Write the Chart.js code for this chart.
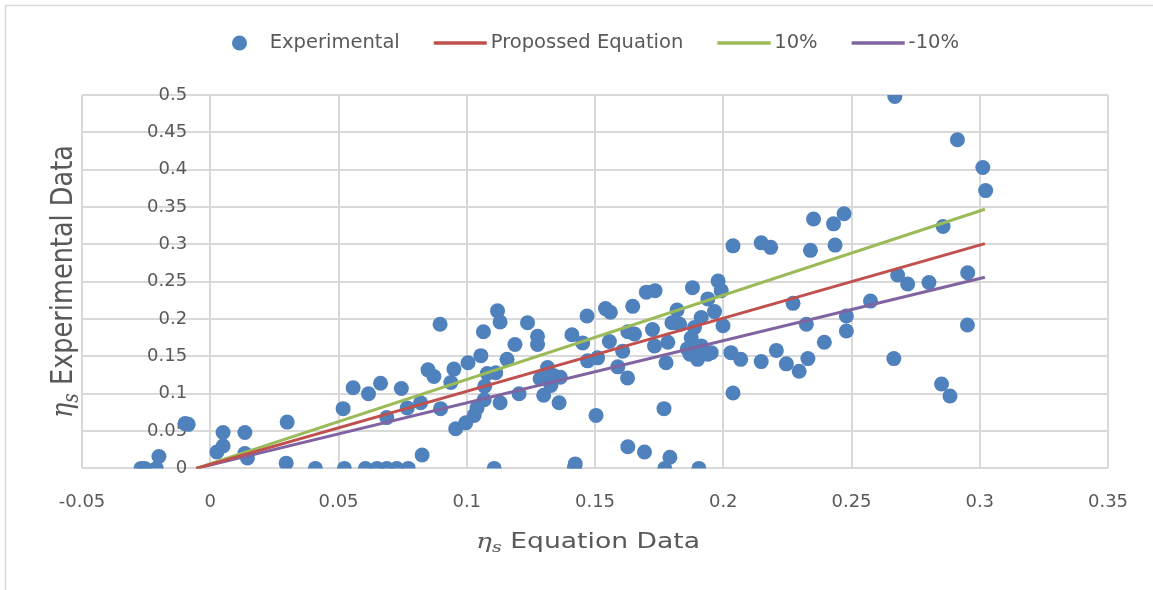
<!DOCTYPE html>
<html>
<head>
<meta charset="utf-8">
<title>Experimental vs Equation</title>
<script src="https://cdn.jsdelivr.net/npm/chart.js@4/dist/chart.umd.min.js"></script>
<style>
  html, body { margin: 0; padding: 0; background: #ffffff; }
  #wrap { width: 1153px; height: 590px; }
</style>
</head>
<body>
<div id="wrap"><canvas id="chart" width="1153" height="590"></canvas></div>
<script>
// Measured points: eta_s from the equation (x) against experimental eta_s (y)
const expX = [
  -0.0270, -0.0255, -0.0210, -0.0200, -0.0098, -0.0086, 0.0026, 0.0050, 0.0050, 0.0135,
  0.0135, 0.0145, 0.0296, 0.0300, 0.0410, 0.0518, 0.0523, 0.0557, 0.0605, 0.0617,
  0.0650, 0.0664, 0.0688, 0.0688, 0.0727, 0.0745, 0.0768, 0.0772, 0.0820, 0.0826,
  0.0849, 0.0872, 0.0896, 0.0898, 0.0938, 0.0950, 0.0957, 0.0996, 0.1005, 0.1029,
  0.1040, 0.1055, 0.1065, 0.1068, 0.1070, 0.1080, 0.1107, 0.1113, 0.1120, 0.1130,
  0.1130, 0.1157, 0.1188, 0.1204, 0.1237, 0.1276, 0.1276, 0.1286, 0.1300, 0.1315,
  0.1328, 0.1340, 0.1365, 0.1360, 0.1410, 0.1420, 0.1423, 0.1452, 0.1469, 0.1471,
  0.1504, 0.1510, 0.1541, 0.1560, 0.1556, 0.1589, 0.1608, 0.1628, 0.1627, 0.1628,
  0.1647, 0.1654, 0.1693, 0.1700, 0.1734, 0.1724, 0.1732, 0.1769, 0.1777, 0.1784,
  0.1772, 0.1792, 0.1800, 0.1820, 0.1830, 0.1880, 0.1875, 0.1888, 0.1870, 0.1860,
  0.1900, 0.1905, 0.1914, 0.1914, 0.1920, 0.1940, 0.1940, 0.1953, 0.1966, 0.1980,
  0.1992, 0.1999, 0.2030, 0.2038, 0.2038, 0.2068, 0.2148, 0.2148, 0.2185, 0.2207,
  0.2246, 0.2272, 0.2296, 0.2324, 0.2330, 0.2340, 0.2352, 0.2394, 0.2430, 0.2436,
  0.2471, 0.2480, 0.2480, 0.2574, 0.2665, 0.2669, 0.2680, 0.2719, 0.2802, 0.2851,
  0.2857, 0.2884, 0.2913, 0.2953, 0.2952, 0.3012, 0.3023
];
const expY = [
  0.000, 0.000, 0.000, 0.016, 0.060, 0.059, 0.022, 0.030, 0.048, 0.048,
  0.020, 0.014, 0.007, 0.062, 0.000, 0.080, 0.000, 0.108, 0.000, 0.100,
  0.000, 0.114, 0.000, 0.068, 0.000, 0.107, 0.081, 0.000, 0.088, 0.018,
  0.132, 0.123, 0.193, 0.080, 0.115, 0.133, 0.053, 0.061, 0.1415, 0.071,
  0.081, 0.151, 0.183, 0.092, 0.110, 0.127, 0.000, 0.128, 0.211, 0.196,
  0.088, 0.146, 0.166, 0.100, 0.195, 0.177, 0.166, 0.120, 0.098, 0.135,
  0.111, 0.124, 0.122, 0.088, 0.179, 0.001, 0.006, 0.168, 0.204, 0.144,
  0.071, 0.148, 0.214, 0.209, 0.170, 0.136, 0.157, 0.183, 0.121, 0.029,
  0.217, 0.180, 0.022, 0.236, 0.238, 0.186, 0.164, 0.080, 0.1415, 0.169,
  0.000, 0.015, 0.195, 0.212, 0.193, 0.242, 0.175, 0.1886, 0.153, 0.160,
  0.146, 0.000, 0.202, 0.164, 0.158, 0.153, 0.227, 0.155, 0.210, 0.251,
  0.238, 0.191, 0.155, 0.298, 0.101, 0.146, 0.302, 0.143, 0.296, 0.158,
  0.140, 0.221, 0.130, 0.193, 0.147, 0.292, 0.334, 0.169, 0.3275, 0.299,
  0.341, 0.204, 0.184, 0.224, 0.147, 0.498, 0.259, 0.247, 0.249, 0.113,
  0.324, 0.097, 0.440, 0.262, 0.192, 0.403, 0.372
];

// Reference lines: the proposed equation and the +/- band around it
const lineX = [-0.0055, 0.302];
const proposedY = [0, 0.301];
const plus10Y = [0, 0.347];
const minus10Y = [0, 0.256];

// Axis tick labels
const xTickLabels = ['-0.05', '0', '0.05', '0.1', '0.15', '0.2', '0.25', '0.3', '0.35'];
const yTickLabels = ['0', '0.05', '0.1', '0.15', '0.2', '0.25', '0.3', '0.35', '0.4', '0.45', '0.5'];

const seriesNames = ['Experimental', 'Propossed Equation', '10%', '-10%'];
const X_MIN = -0.05, X_MAX = 0.35, Y_MIN = 0, Y_MAX = 0.5, STEP = 0.05;

const BLUE = '#4F81BD', RED = '#C0504D', GREEN = '#9BBB59', PURPLE = '#8064A2';
const TEXT = '#595959', GRID = '#d9d9d9';

const toPoints = (xs, ys) => xs.map((x, i) => ({ x: x, y: ys[i] }));

// Legend glyphs: a round marker or a short line segment
function legendGlyph(kind, color) {
  const c = document.createElement('canvas');
  c.width = 70; c.height = 20;
  const g = c.getContext('2d');
  if (kind === 'dot') {
    g.fillStyle = color;
    g.beginPath(); g.arc(43.5, 10, 7.5, 0, Math.PI * 2); g.fill();
  } else {
    g.strokeStyle = color; g.lineWidth = 3.5; g.lineCap = 'butt';
    g.beginPath(); g.moveTo(16.75, 10); g.lineTo(69.75, 10); g.stroke();
  }
  return c;
}
const glyphs = [legendGlyph('dot', BLUE), legendGlyph('line', RED), legendGlyph('line', GREEN), legendGlyph('line', PURPLE)];

// Extra room between the legend row and the plot
const legendSpacing = {
  id: 'legendSpacing',
  beforeInit(chart) {
    const legend = chart.legend;
    const fit = legend.fit;
    legend.fit = function () { fit.call(this); this.height += 32.25; };
  }
};

// White page with the thin frame along the top and left edges
const frame = {
  id: 'frame',
  beforeDraw(chart) {
    const ctx = chart.ctx;
    ctx.save();
    ctx.fillStyle = '#ffffff';
    ctx.fillRect(0, 0, chart.width, chart.height);
    ctx.strokeStyle = GRID; ctx.lineWidth = 1.5;
    ctx.beginPath();
    ctx.moveTo(5.5, chart.height); ctx.lineTo(5.5, 5.5); ctx.lineTo(chart.width, 5.5);
    ctx.stroke();
    ctx.restore();
  }
};

// Axis titles with an italic eta and subscript s
function drawEtaTitle(ctx, bx, by, rotated, fontPx, length, thickness, rest) {
  ctx.save();
  const etaFont = 'italic ' + fontPx + 'px "DejaVu Serif"';
  const subFont = 'italic ' + (fontPx * 0.72) + 'px "DejaVu Serif"';
  const textFont = fontPx + 'px "DejaVu Sans"';
  ctx.font = etaFont; const wEta = ctx.measureText('\u03B7').width;
  ctx.font = subFont; const wSub = ctx.measureText('s').width;
  ctx.font = textFont; const wText = ctx.measureText(' ' + rest).width;
  const total = wEta + wSub + wText;
  ctx.translate(bx, by);
  if (rotated) ctx.rotate(-Math.PI / 2);
  ctx.scale(length / total, thickness);
  ctx.fillStyle = TEXT;
  ctx.textBaseline = 'alphabetic';
  ctx.textAlign = 'left';
  let x = -total / 2;
  ctx.font = etaFont; ctx.fillText('\u03B7', x, 0); x += wEta;
  ctx.font = subFont; ctx.fillText('s', x, fontPx * 0.2); x += wSub;
  ctx.font = textFont; ctx.fillText(' ' + rest, x, 0);
  ctx.restore();
}
const axisTitles = {
  id: 'axisTitles',
  afterDraw(chart) {
    const ctx = chart.ctx;
    drawEtaTitle(ctx, 588, 548, false, 20.5, 224, 1, 'Equation Data');
    drawEtaTitle(ctx, 72, 281.5, true, 25, 273, 1.2, 'Experimental Data');
  }
};

const tickFont = { family: 'DejaVu Sans', size: 18 };

new Chart(document.getElementById('chart'), {
  type: 'scatter',
  data: {
    datasets: [
      {
        label: seriesNames[0], data: toPoints(expX, expY), order: 1,
        backgroundColor: BLUE, borderColor: BLUE, borderWidth: 0,
        pointRadius: 7.5, pointHoverRadius: 7.5, pointStyle: 'circle'
      },
      {
        label: seriesNames[1], data: toPoints(lineX, proposedY), order: 0,
        showLine: true, borderColor: RED, backgroundColor: RED, borderWidth: 3, pointRadius: 0
      },
      {
        label: seriesNames[2], data: toPoints(lineX, plus10Y), order: 0,
        showLine: true, borderColor: GREEN, backgroundColor: GREEN, borderWidth: 3, pointRadius: 0
      },
      {
        label: seriesNames[3], data: toPoints(lineX, minus10Y), order: 0,
        showLine: true, borderColor: PURPLE, backgroundColor: PURPLE, borderWidth: 3, pointRadius: 0
      }
    ]
  },
  options: {
    responsive: false,
    animation: false,
    devicePixelRatio: 1,
    layout: { padding: { left: 53, right: 45, top: 10, bottom: 54 } },
    plugins: {
      tooltip: { enabled: false },
      legend: {
        position: 'top',
        align: 'center',
        labels: {
          usePointStyle: true,
          pointStyleWidth: 58,
          padding: 23.25,
          color: TEXT,
          font: { family: 'DejaVu Sans', size: 19.5 },
          sort: (a, b) => a.datasetIndex - b.datasetIndex,
          generateLabels(chart) {
            const items = Chart.defaults.plugins.legend.labels.generateLabels(chart);
            items.forEach(it => { it.pointStyle = glyphs[it.datasetIndex]; });
            return items;
          }
        }
      }
    },
    scales: {
      x: {
        type: 'linear', position: 'bottom', min: X_MIN, max: X_MAX,
        ticks: {
          stepSize: STEP, autoSkip: false, maxRotation: 0, padding: 23,
          color: TEXT, font: tickFont,
          callback: (v) => xTickLabels[Math.round((v - X_MIN) / STEP)]
        },
        grid: { color: GRID, lineWidth: 2, drawTicks: false },
        border: { display: false }
      },
      y: {
        // labels sit just left of the vertical line at x = 0
        type: 'linear', position: { x: -0.009 }, min: Y_MIN, max: Y_MAX,
        ticks: {
          stepSize: STEP, autoSkip: false,
          color: TEXT, font: tickFont,
          callback: (v) => yTickLabels[Math.round((v - Y_MIN) / STEP)]
        },
        grid: { color: GRID, lineWidth: 2, drawTicks: false },
        border: { display: false }
      },
      yPad: {
        type: 'linear', axis: 'y', position: 'left', display: true,
        ticks: { display: false }, grid: { display: false }, border: { display: false },
        afterFit: (s) => { s.width = 29; }
      }
    }
  },
  plugins: [legendSpacing, frame, axisTitles]
});
</script>
</body>
</html>
